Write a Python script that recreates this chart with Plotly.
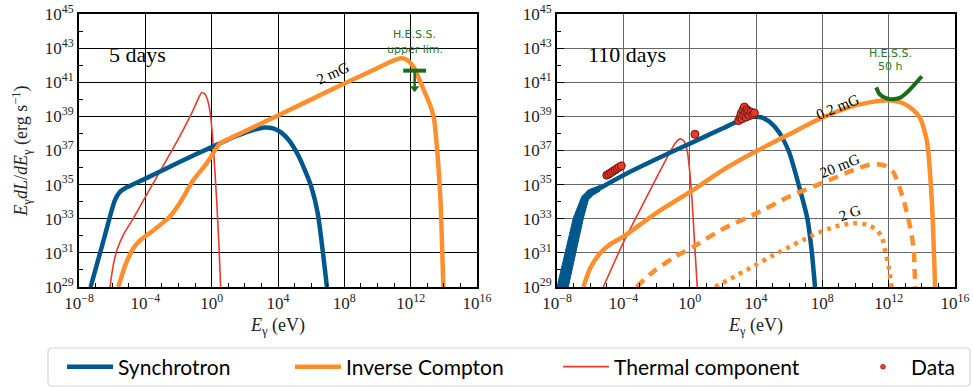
import numpy as np
import plotly.graph_objects as go

# ---------------- data (log10 values) ----------------
# Left panel: 5 days
sync5_logE = [-7.3, -6.5, -5.85, -5.55, -5.2, -4.0, -2.0, 0.0, 1.5, 2.5, 3.2, 3.7, 4.2, 4.7, 5.2, 5.6, 6.0, 6.4, 6.95]
sync5_logL = [29.0, 31.8, 34.05, 34.55, 34.8, 35.35, 36.3, 37.2, 37.85, 38.2, 38.35, 38.3, 38.05, 37.55, 36.75, 35.9, 34.9, 33.3, 29.0]

ic5_logE = [-5.63, -5.2, -4.7, -4.3, -3.6, -2.9, -2.5, -2.0, -1.1, -0.3, 0.5, 1.3, 4.0, 7.3, 9.5, 10.8, 11.4, 11.8, 12.2, 12.7, 13.2, 13.4, 13.6, 13.8, 13.97]
ic5_logL = [29.0, 30.3, 31.3, 31.75, 32.25, 32.8, 33.15, 33.8, 35.27, 36.25, 37.4, 37.8, 39.05, 40.6, 41.6, 42.2, 42.4, 42.3, 41.85, 40.75, 39.6, 38.9, 37.0, 34.0, 29.0]

th5_logE = [-6.13, -5.95, -5.7, -5.3, -4.8, -4.1, -2.0, -1.1, -0.8, -0.6, -0.4, -0.2, -0.05, 0.1, 0.3, 0.45, 0.54]
th5_logL = [29.0, 30.2, 31.2, 32.1, 32.9, 34.1, 37.7, 39.4, 40.05, 40.4, 40.3, 39.8, 38.9, 37.2, 34.1, 31.2, 29.0]

# H.E.S.S. upper limit (5 days)
ul5_logE = [11.55, 12.93]
ul5_logL = 41.68
ul5_center = 12.24
ul5_tip = 40.5

# Right panel: 110 days
sync110_logE = [-7.65, -7.2, -6.72, -6.4, -6.1, -5.8, -5.4, -4.0, -2.0, 0.0, 2.0, 3.0, 3.8, 4.3, 4.8, 5.4, 6.0, 6.6, 7.1, 7.35, 7.56]
sync110_logL = [29.0, 31.0, 33.0, 33.9, 34.4, 34.62, 34.8, 35.55, 36.5, 37.4, 38.3, 38.75, 38.97, 38.95, 38.7, 38.05, 36.9, 34.9, 33.0, 31.2, 29.0]
# low-energy spread of the synchrotron band
band_upper_logE = [-8.0, -7.02, -6.51, -6.11, -5.41]
band_upper_logL = [29.0, 33.03, 34.29, 34.69, 34.95]
band_lower_logE = [-5.41, -5.81, -6.11, -6.41, -7.32]
band_lower_logL = [34.62, 34.39, 34.1, 33.03, 29.0]

ic02_logE = [-6.41, -6.0, -5.4, -4.8, -4.0, -2.0, 0.22, 1.83, 4.0, 6.0, 7.5, 9.5, 11.0, 12.0, 12.8, 13.4, 13.9, 14.3, 14.6, 14.8]
ic02_logL = [29.0, 30.1, 30.98, 31.5, 31.95, 33.35, 34.69, 35.75, 36.95, 37.95, 38.7, 39.5, 39.85, 39.95, 39.8, 39.45, 38.9, 37.6, 34.1, 29.0]

ic20_logE = [-3.2, -2.2, -1.0, 0.22, 2.0, 4.0, 6.0, 8.5, 10.0, 10.8, 11.3, 11.8, 12.3, 12.9, 13.3, 13.5, 13.6]
ic20_logL = [29.0, 29.9, 30.7, 31.36, 32.4, 33.3, 34.3, 35.3, 35.9, 36.15, 36.2, 36.1, 35.7, 34.1, 32.5, 31.3, 29.0]

ic2G_logE = [1.53, 2.5, 3.44, 5.45, 7.46, 8.8, 9.87, 10.7, 11.28, 11.6, 11.78, 12.0, 12.18]
ic2G_logL = [29.0, 29.5, 30.0, 31.07, 32.05, 32.55, 32.73, 32.65, 32.34, 31.9, 31.17, 30.2, 29.0]

th110_logE = [-5.21, -4.0, -3.0, -2.0, -1.3, -0.85, -0.57, -0.35, -0.15, 0.0, 0.15, 0.3, 0.46]
th110_logL = [29.0, 31.6, 33.5, 35.4, 36.7, 37.45, 37.68, 37.55, 37.0, 35.8, 34.0, 31.5, 29.0]

hess50_logE = [11.25, 11.45, 11.8, 12.25, 12.7, 13.1, 13.5, 14.0]
hess50_logL = [40.7, 40.3, 40.08, 40.0, 40.1, 40.4, 40.8, 41.35]

data_logE = [-5.0, -4.88, -4.75, -4.63, -4.5, -4.38, -4.25, -4.12,
             0.32,
             2.95, 3.05, 3.1, 3.15, 3.2, 3.25, 3.3, 3.35, 3.4, 3.45, 3.5, 3.55, 3.6, 3.7, 3.8, 3.9]
data_logL = [35.55, 35.62, 35.7, 35.78, 35.86, 35.94, 36.02, 36.1,
             37.95,
             38.75, 38.95, 39.15, 38.85, 39.35, 39.05, 39.55, 39.25, 38.95, 39.4, 39.15, 39.3, 39.05, 39.25, 39.1, 39.2]

x_tick_exp = [-8, -4, 0, 4, 8, 12, 16]
y_tick_exp = [29, 31, 33, 35, 37, 39, 41, 43, 45]

# ---------------- styling ----------------
BLUE = "#00578c"
ORANGE = "#ff8f2e"
RED = "#e8392a"
GREEN = "#1a6b1a"
SERIF = "Liberation Serif"


def p(v):
    return [10.0 ** x for x in v]


def sup(e):
    s = str(e).replace("-", "\u2212")
    return "10<sup>" + s + "</sup>"


fig = go.Figure()

def line(xe, ye, color, width, xa, ya, name=None, legend=None, dash=None, show=False):
    fig.add_trace(go.Scatter(
        x=p(xe), y=p(ye), mode="lines", name=name,
        line=dict(color=color, width=width, dash=dash, shape="spline", smoothing=0.6),
        xaxis=xa, yaxis=ya, showlegend=show, legend=legend, hoverinfo="skip"))

# left panel
line(th5_logE, th5_logL, RED, 1.6, "x", "y")
line(sync5_logE, sync5_logL, BLUE, 4.5, "x", "y")
line(ic5_logE, ic5_logL, ORANGE, 4.5, "x", "y")
fig.add_trace(go.Scatter(x=p(ul5_logE), y=p([ul5_logL, ul5_logL]), mode="lines",
                         line=dict(color=GREEN, width=4), xaxis="x", yaxis="y",
                         showlegend=False, hoverinfo="skip"))
fig.add_trace(go.Scatter(x=p([ul5_center, ul5_center]), y=p([ul5_logL, ul5_tip + 0.25]), mode="lines",
                         line=dict(color=GREEN, width=2.5), xaxis="x", yaxis="y",
                         showlegend=False, hoverinfo="skip"))
fig.add_trace(go.Scatter(x=p([ul5_center]), y=p([ul5_tip + 0.15]), mode="markers",
                         marker=dict(symbol="triangle-down", size=8, color=GREEN),
                         xaxis="x", yaxis="y", showlegend=False, hoverinfo="skip"))

# right panel
band_x = band_upper_logE + band_lower_logE
band_y = band_upper_logL + band_lower_logL
fig.add_trace(go.Scatter(x=p(band_x), y=p(band_y), mode="lines", fill="toself",
                         fillcolor=BLUE, line=dict(color=BLUE, width=1),
                         xaxis="x2", yaxis="y2", showlegend=False, hoverinfo="skip"))
line(th110_logE, th110_logL, RED, 1.6, "x2", "y2", name="Thermal component", legend="legend3", show=True)
line(sync110_logE, sync110_logL, BLUE, 4.5, "x2", "y2", name="Synchrotron", legend="legend", show=True)
line(ic02_logE, ic02_logL, ORANGE, 4.5, "x2", "y2", name="Inverse Compton", legend="legend2", show=True)
line(ic20_logE, ic20_logL, ORANGE, 4.5, "x2", "y2", dash="10px,7px")
line(ic2G_logE, ic2G_logL, ORANGE, 4.5, "x2", "y2", dash="4px,5px")
line(hess50_logE, hess50_logL, GREEN, 4, "x2", "y2")
fig.add_trace(go.Scatter(x=p(data_logE), y=p(data_logL), mode="markers", name="Data",
                         marker=dict(color=RED, size=8, line=dict(color="#6e1a10", width=1)),
                         xaxis="x2", yaxis="y2", showlegend=False, hoverinfo="skip"))
# legend-only proxy for Data (smaller marker like reference)
fig.add_trace(go.Scatter(x=[None], y=[None], mode="markers", name="Data",
                         marker=dict(color=RED, size=5, line=dict(color="#6e1a10", width=0.5)),
                         xaxis="x2", yaxis="y2", showlegend=True, legend="legend4"))

# ---------------- axes ----------------
W, H = 973, 387
def xdom(a, b):
    return [a / W, b / W]
ydom = [1 - 287 / H, 1 - 14 / H]

xticks = dict(tickvals=[10.0 ** e for e in x_tick_exp], ticktext=[sup(e) for e in x_tick_exp])
yticks = dict(tickvals=[10.0 ** e for e in y_tick_exp], ticktext=[sup(e) for e in y_tick_exp])
minor_x = dict(tickvals=[10.0 ** e for e in range(-8, 17)], ticks="inside", ticklen=4,
               tickcolor="black", showgrid=False)
minor_y = dict(tickvals=[10.0 ** e for e in range(29, 46)], ticks="inside", ticklen=4,
               tickcolor="black", showgrid=False)

def xaxis(dom, gridcolor, anchor):
    return dict(type="log", range=[-8, 16], domain=dom, anchor=anchor, **xticks,
                automargin=False,
                ticks="inside", ticklen=7, tickwidth=1, tickcolor="black",
                showgrid=True, gridcolor=gridcolor, gridwidth=1,
                showline=True, linecolor="black", linewidth=2, mirror=True,
                minor=minor_x, zeroline=False,
                tickfont=dict(family=SERIF, size=17, color="#222"),
                title=dict(text="<i>E</i><sub>\u03b3</sub> (eV)", font=dict(family=SERIF, size=18, color="#222"),
                           standoff=6))

def yaxis(dom, gridcolor, anchor, title):
    d = dict(type="log", range=[29, 45], domain=dom, anchor=anchor, **yticks,
             automargin=False,
             ticks="inside", ticklen=7, tickwidth=1, tickcolor="black",
             showgrid=True, gridcolor=gridcolor, gridwidth=1,
             showline=True, linecolor="black", linewidth=2, mirror=True,
             minor=minor_y, zeroline=False,
             tickfont=dict(family=SERIF, size=17, color="#222"))
    if title:
        d["title"] = dict(text="<i>E</i><sub>\u03b3</sub><i>dL</i>/<i>dE</i><sub>\u03b3</sub> (erg s<sup>\u22121</sup>)",
                          font=dict(family=SERIF, size=18, color="#222"), standoff=12)
    return d

fig.update_layout(
    width=W, height=H, margin=dict(l=0, r=0, t=0, b=0, autoexpand=False),
    paper_bgcolor="white", plot_bgcolor="white",
    xaxis=xaxis(xdom(79, 477), "black", "y"),
    yaxis=yaxis(ydom, "black", "x", True),
    xaxis2=xaxis(xdom(557, 955), "#666666", "y2"),
    yaxis2=yaxis(ydom, "#666666", "x2", False),
)

legend_common = dict(orientation="h", yanchor="middle", y=1 - 367 / H, xanchor="left",
                     bgcolor="rgba(0,0,0,0)", borderwidth=0, itemwidth=46,
                     font=dict(family="Lato", size=21, color="black"))
fig.update_layout(
    legend=dict(x=62 / W, **legend_common),
    legend2=dict(x=290 / W, **legend_common),
    legend3=dict(x=558 / W, **legend_common),
    legend4=dict(x=855 / W, **legend_common),
)

# legend frame
x0, x1 = 48 / W, 970 / W
y0, y1 = 1 - 386 / H, 1 - 348 / H
rx, ry = 4 / W, 4 / H
path = (f"M {x0+rx},{y0} L {x1-rx},{y0} Q {x1},{y0} {x1},{y0+ry} L {x1},{y1-ry} Q {x1},{y1} {x1-rx},{y1} "
        f"L {x0+rx},{y1} Q {x0},{y1} {x0},{y1-ry} L {x0},{y0+ry} Q {x0},{y0} {x0+rx},{y0} Z")
fig.add_shape(type="path", path=path, xref="paper", yref="paper",
              line=dict(color="#d5d5d5", width=1.2), fillcolor="rgba(255,255,255,0.8)", layer="below")

# ---------------- annotations ----------------
def ann(text, xe, ye, xr, yr, size, color="black", angle=0, family=SERIF):
    fig.add_annotation(text=text, x=xe, y=ye, xref=xr, yref=yr, showarrow=False,
                       textangle=angle, font=dict(family=family, size=size, color=color),
                       xanchor="center", yanchor="middle")

ann("5 days", -4.5, 42.6, "x", "y", 22)
ann("110 days", -3.8, 42.6, "x2", "y2", 22)
ann("2 mG", 7.34, 41.53, "x", "y", 15, angle=-24)
ann("0.2 mG", 8.9, 39.57, "x2", "y2", 15, angle=-22)
ann("20 mG", 9.02, 36.11, "x2", "y2", 15, angle=-22)
ann("2 G", 9.67, 33.32, "x2", "y2", 15, angle=-20)
ann("H.E.S.S.", 12.26, 43.77, "x", "y", 11, color="#217a21", family="DejaVu Sans")
ann("upper lim.", 12.26, 42.9, "x", "y", 11, color="#217a21", family="DejaVu Sans")
ann("H.E.S.S.", 12.1, 42.7, "x2", "y2", 11, color="#217a21", family="DejaVu Sans")
ann("50 h", 12.1, 41.9, "x2", "y2", 11, color="#217a21", family="DejaVu Sans")

fig.write_html("out.html", config={"displayModeBar": False},
               post_script="document.body.style.margin='0';document.body.style.overflow='hidden';")
